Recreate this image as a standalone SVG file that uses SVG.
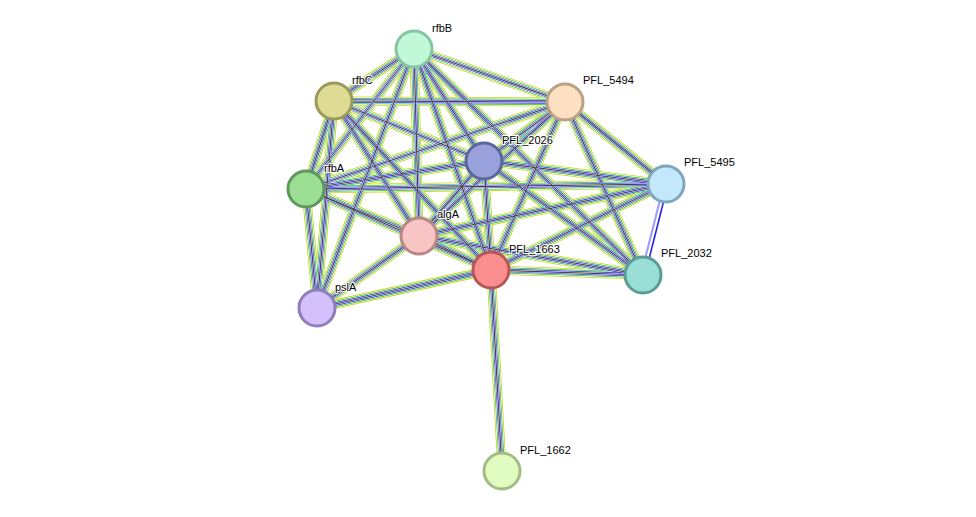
<svg xmlns="http://www.w3.org/2000/svg" xmlns:xlink="http://www.w3.org/1999/xlink" width="976" height="517" viewBox="0 0 976 517">
<style>
.n{stroke-width:3}
text{font-family:"Liberation Sans",Arial,sans-serif;font-size:11px;fill:#000;paint-order:stroke;stroke:#fff;stroke-width:2px}
</style>
<defs>
<g id="E" fill="none">
<line x1="414" y1="49" x2="334" y2="101"/><line x1="414" y1="49" x2="565" y2="102"/><line x1="414" y1="49" x2="484" y2="161"/><line x1="414" y1="49" x2="306" y2="189"/><line x1="414" y1="49" x2="419" y2="236"/><line x1="414" y1="49" x2="491" y2="270"/><line x1="414" y1="49" x2="317" y2="308"/><line x1="414" y1="49" x2="643" y2="275"/>
<line x1="334" y1="101" x2="565" y2="102"/><line x1="334" y1="101" x2="484" y2="161"/><line x1="334" y1="101" x2="306" y2="189"/><line x1="334" y1="101" x2="419" y2="236"/><line x1="334" y1="101" x2="491" y2="270"/><line x1="334" y1="101" x2="317" y2="308"/>
<line x1="306" y1="189" x2="484" y2="161"/><line x1="306" y1="189" x2="565" y2="102"/><line x1="306" y1="189" x2="419" y2="236"/><line x1="306" y1="189" x2="491" y2="270"/><line x1="306" y1="189" x2="317" y2="308"/><line x1="306" y1="189" x2="666" y2="184"/>
<line x1="419" y1="236" x2="484" y2="161"/><line x1="419" y1="236" x2="491" y2="270"/><line x1="419" y1="236" x2="666" y2="184"/><line x1="419" y1="236" x2="643" y2="275"/><line x1="419" y1="236" x2="317" y2="308"/><line x1="419" y1="236" x2="565" y2="102"/>
<line x1="484" y1="161" x2="565" y2="102"/><line x1="484" y1="161" x2="666" y2="184"/><line x1="484" y1="161" x2="643" y2="275"/><line x1="484" y1="161" x2="491" y2="270"/>
<line x1="565" y1="102" x2="666" y2="184"/><line x1="565" y1="102" x2="643" y2="275"/><line x1="565" y1="102" x2="491" y2="270"/>
<line x1="666" y1="184" x2="491" y2="270"/>
<line x1="491" y1="270" x2="643" y2="275"/><line x1="491" y1="270" x2="317" y2="308"/><line x1="491" y1="270" x2="502" y2="471"/>
</g>
</defs>
<g id="connectors">
<use xlink:href="#E" stroke="#c8d41a" stroke-width="9"/>
<use xlink:href="#E" stroke="#fff" stroke-width="7.4"/>
<use xlink:href="#E" stroke="#2cc02c" stroke-width="6"/>
<use xlink:href="#E" stroke="#fff" stroke-width="4.6"/>
<use xlink:href="#E" stroke="#2222ee" stroke-width="3.4"/>
<use xlink:href="#E" stroke="#fff" stroke-width="2.2"/>
<use xlink:href="#E" stroke="#444" stroke-width="1.2"/>
<line x1="664" y1="184" x2="641" y2="275" stroke="#9a9aff" stroke-width="2"/>
<line x1="668" y1="184" x2="645" y2="275" stroke="#2222ee" stroke-width="1.6"/>
</g>
<g id="rfbB"><circle class="n" cx="414" cy="49" r="18" fill="#c1f8d8" stroke="#86c4a4"/><text x="432" y="32">rfbB</text></g>
<g id="rfbC"><circle class="n" cx="334" cy="101" r="18" fill="#dedb95" stroke="#9c9a5a"/><text x="352" y="84">rfbC</text></g>
<g id="PFL_5494"><circle class="n" cx="565" cy="102" r="18" fill="#fddfc1" stroke="#bba085"/><text x="583" y="84">PFL_5494</text></g>
<g id="PFL_2026"><circle class="n" cx="484" cy="161" r="18" fill="#98a1db" stroke="#5c669c"/><text x="502" y="144">PFL_2026</text></g>
<g id="PFL_5495"><circle class="n" cx="666" cy="184" r="18" fill="#c3e8fc" stroke="#7ea6bc"/><text x="684" y="166">PFL_5495</text></g>
<g id="rfbA"><circle class="n" cx="306" cy="189" r="18" fill="#9bde94" stroke="#5e985a"/><text x="324" y="172">rfbA</text></g>
<g id="algA"><circle class="n" cx="419" cy="236" r="18" fill="#f8c4c4" stroke="#b88686"/><text x="437" y="218">algA</text></g>
<g id="PFL_1663"><circle class="n" cx="491" cy="270" r="18" fill="#fa8e8e" stroke="#b85656"/><text x="509" y="253">PFL_1663</text></g>
<g id="PFL_2032"><circle class="n" cx="643" cy="275" r="18" fill="#9adfd6" stroke="#5c9c94"/><text x="661" y="257">PFL_2032</text></g>
<g id="pslA"><circle class="n" cx="317" cy="308" r="18" fill="#d4c1fb" stroke="#8e7ebc"/><text x="335" y="291">pslA</text></g>
<g id="PFL_1662"><circle class="n" cx="502" cy="471" r="18" fill="#e0fcc0" stroke="#a2bc84"/><text x="520" y="454">PFL_1662</text></g>
</svg>
